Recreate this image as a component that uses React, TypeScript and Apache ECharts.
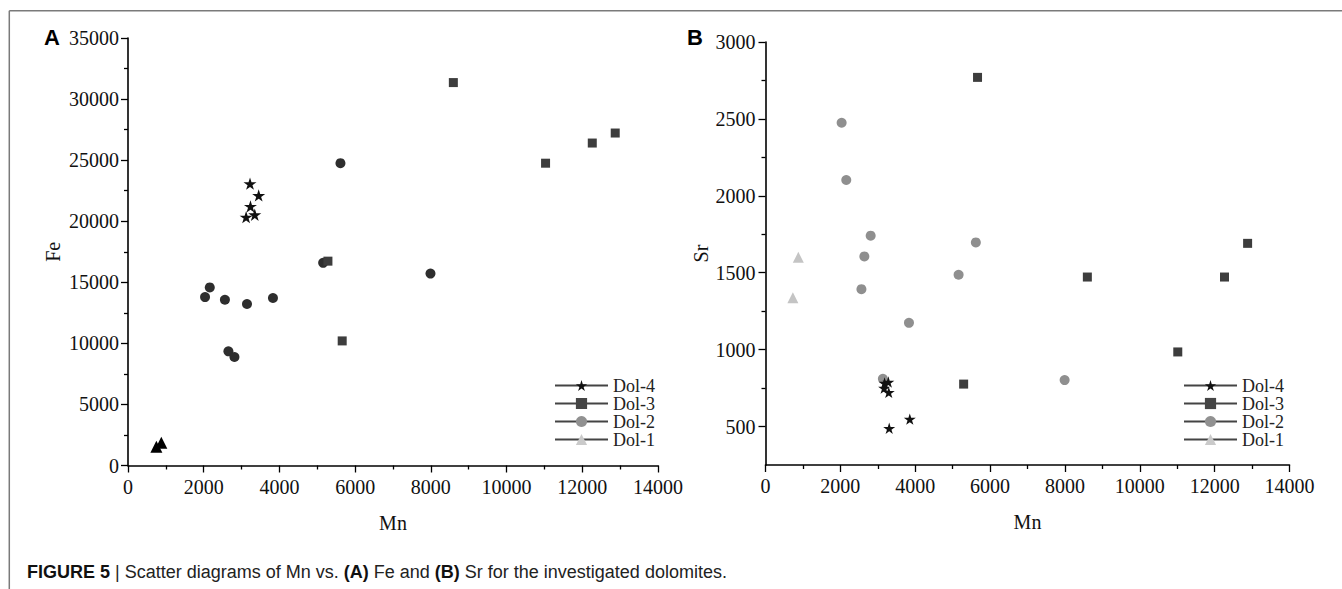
import React, { useEffect, useRef } from "react";
import * as echarts from "echarts";

// Panel A: Mn vs Fe
const dol4A: number[][] = [[3223, 23080], [3452, 22120], [3235, 21220], [3349, 20530], [3120, 20340]];
const dol3A: number[][] = [[8594, 31350], [11030, 24750], [12264, 26400], [12870, 27220], [5281, 16730], [5658, 10200]];
const dol2A: number[][] = [[5612, 24750], [7990, 15710], [5155, 16590], [2160, 14580], [2035, 13790], [2560, 13570], [3143, 13220], [3829, 13710], [2652, 9350], [2812, 8880]];
const dol1A: number[][] = [[750, 1540], [880, 1870]];

// Panel B: Mn vs Sr
const dol4B: number[][] = [[3181, 783], [3282, 790], [3170, 750], [3293, 722], [3305, 489], [3855, 548]];
const dol3B: number[][] = [[5665, 2770], [8599, 1472], [12263, 1472], [12881, 1691], [11015, 985], [5294, 776]];
const dol2B: number[][] = [[2034, 2475], [2158, 2103], [2810, 1741], [2641, 1606], [5620, 1697], [5159, 1487], [2563, 1393], [3833, 1174], [3136, 811], [7992, 802]];
const dol1B: number[][] = [[877, 1600], [731, 1337]];

// Sr axis ticks (panel B)
const srMajorTicks = [500, 1000, 1500, 2000, 2500, 3000];
const srMinorTicks = [750, 1250, 1750, 2250, 2750];

const legendNames = ["Dol-4", "Dol-3", "Dol-2", "Dol-1"];
const caption = "{b|FIGURE 5} | Scatter diagrams of Mn vs. {b|(A)} Fe and {b|(B)} Sr for the investigated dolomites.";

const STAR = "path://M50,0 L61,35 L98,35 L68,57 L79,91 L50,70 L21,91 L32,57 L2,35 L39,35 Z";
const SERIF = "Liberation Serif";
const SANS = "Liberation Sans";

export default function App() {
  const ref = useRef<HTMLDivElement>(null);
  useEffect(() => {
    if (!ref.current) return;
    const chart = echarts.init(ref.current, undefined, { renderer: "svg" });

    const tickStyle = { color: "#000", width: 1.3 };
    const axisCommon = {
      axisLine: { show: true, lineStyle: { color: "#000", width: 1.6 } },
      axisTick: { show: true, length: 7, lineStyle: tickStyle },
      minorTick: { show: true, splitNumber: 2, length: 4, lineStyle: tickStyle },
      splitLine: { show: false },
      minorSplitLine: { show: false },
      nameLocation: "middle" as const,
      nameTextStyle: { color: "#111", fontFamily: SERIF, fontSize: 20 },
    };
    const label = (margin: number) => ({ color: "#111", fontFamily: SERIF, fontSize: 20, margin, formatter: (v: number) => String(v) });

    const mk = (name: string, data: number[][], idx: number, symbol: string, size: number, color: string, z: number) => ({
      name,
      type: "line",
      xAxisIndex: idx,
      yAxisIndex: idx,
      data,
      symbol,
      symbolSize: size,
      symbolKeepAspect: true,
      showSymbol: true,
      showAllSymbol: true,
      lineStyle: { width: 0, opacity: 0 },
      itemStyle: { color, opacity: 1 },
      z,
      silent: true,
    });

    const legendColors: Record<string, string> = {
      "Dol-4": "#111111",
      "Dol-3": "#454545",
      "Dol-2": "#919191",
      "Dol-1": "#cacaca",
    };
    const mkLegend = (left: number) => ({
      orient: "vertical",
      left,
      top: 371.5,
      itemWidth: 53,
      itemHeight: 14,
      itemGap: 0,
      selectedMode: false,
      lineStyle: { color: "#444", width: 2, opacity: 1 },
      textStyle: { color: "#222", fontFamily: SERIF, fontSize: 18, lineHeight: 17.8, padding: [0, 0, 0, 0] },
      data: legendNames.map((n) => ({ name: n, itemStyle: { color: legendColors[n], opacity: 1 } })),
    });

    chart.setOption({
      animation: false,
      backgroundColor: "#fff",
      grid: [
        { left: 128, top: 38, width: 530, height: 427.5 },
        { left: 765.5, top: 42, width: 524, height: 423 },
      ],
      xAxis: [
        { ...axisCommon, type: "value", gridIndex: 0, min: 0, max: 14000, interval: 2000, axisLabel: label(11), name: "Mn", nameGap: 47 },
        { ...axisCommon, type: "value", gridIndex: 1, min: 0, max: 14000, interval: 2000, axisLabel: label(11), name: "Mn", nameGap: 47 },
      ],
      yAxis: [
        { ...axisCommon, type: "value", gridIndex: 0, min: 0, max: 35000, interval: 5000, axisLabel: label(9), name: "Fe", nameGap: 65 },
        {
          ...axisCommon,
          type: "value",
          gridIndex: 1,
          position: "left",
          min: 250,
          max: 3000,
          minorTick: { show: false },
          axisTick: { show: true, length: 7, lineStyle: tickStyle, customValues: srMajorTicks },
          axisLabel: { ...label(10), customValues: srMajorTicks },
          name: "Sr",
          nameGap: 55,
        },
        {
          type: "value",
          gridIndex: 1,
          position: "left",
          offset: 0,
          min: 250,
          max: 3000,
          axisLine: { show: false },
          splitLine: { show: false },
          minorTick: { show: false },
          axisTick: { show: true, length: 4, lineStyle: tickStyle, customValues: srMinorTicks },
          axisLabel: { show: false },
        },
      ],
      legend: [mkLegend(549), mkLegend(1178)],
      series: [
        mk("Dol-4", dol4A, 0, STAR, 13, "#111111", 5),
        mk("Dol-3", dol3A, 0, "rect", 9, "#3d3d3d", 4),
        mk("Dol-2", dol2A, 0, "circle", 10, "#2e2e2e", 3),
        mk("Dol-1", dol1A, 0, "triangle", 12, "#000000", 2),
        mk("Dol-4", dol4B, 1, STAR, 12, "#111111", 5),
        mk("Dol-3", dol3B, 1, "rect", 9, "#3d3d3d", 4),
        mk("Dol-2", dol2B, 1, "circle", 10, "#8f8f8f", 3),
        mk("Dol-1", dol1B, 1, "triangle", 11, "#c4c4c4", 2),
      ],
      graphic: [
        { type: "line", shape: { x1: 9.3, y1: 10.7, x2: 1342, y2: 10.7 }, style: { stroke: "#7a7a7a", lineWidth: 1.5 } },
        { type: "line", shape: { x1: 9.3, y1: 10.7, x2: 9.3, y2: 589 }, style: { stroke: "#7a7a7a", lineWidth: 1.5 } },
        { type: "text", x: 44, y: 37, style: { text: "A", font: `bold 22px '${SANS}', Arial`, fill: "#000", verticalAlign: "middle" } },
        { type: "text", x: 687, y: 37.5, style: { text: "B", font: `bold 22px '${SANS}', Arial`, fill: "#000", verticalAlign: "middle" } },
        {
          type: "text",
          x: 27,
          y: 571.5,
          style: {
            text: caption,
            font: `18px '${SANS}', Arial`,
            fill: "#222",
            verticalAlign: "middle",
            rich: { b: { fontWeight: "bold", fontSize: 18, fontFamily: SANS, fill: "#111" } },
          },
        },
      ],
    });
    return () => chart.dispose();
  }, []);
  return <div ref={ref} style={{ position: "fixed", left: 0, top: 0, width: 1342, height: 589 }} />;
}
